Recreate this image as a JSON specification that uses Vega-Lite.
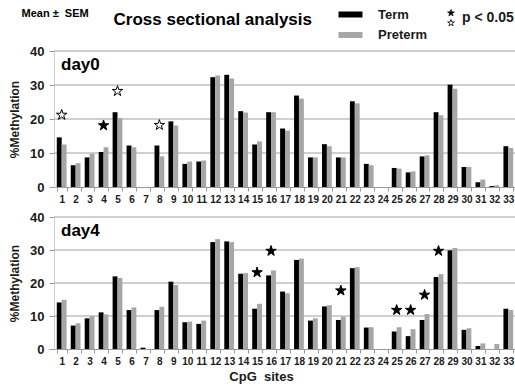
{
  "$schema": "https://vega.github.io/schema/vega-lite/v6.json",
  "padding": {"left": 8, "top": 8, "right": 0, "bottom": 2},
  "config": {
    "font": "Liberation Sans",
    "view": {"stroke": null},
    "axis": {"labelColor": "#1a1a1a", "titleColor": "#1a1a1a"}
  },
  "title": {"text": "Mean ± \u00a0SEM", "anchor": "start", "fontSize": 11, "fontWeight": "bold", "dx": 13, "offset": -11},
  "datasets": {
    "gridlines": [{"value": 10}, {"value": 20}, {"value": 30}, {"value": 40}],
    "bars": [
      {"day": "day0", "site": 1, "Term": 14.6, "Preterm": 12.5},
      {"day": "day0", "site": 2, "Term": 6.4, "Preterm": 7.0},
      {"day": "day0", "site": 3, "Term": 8.7, "Preterm": 9.8},
      {"day": "day0", "site": 4, "Term": 10.3, "Preterm": 11.7},
      {"day": "day0", "site": 5, "Term": 22.0, "Preterm": 20.3},
      {"day": "day0", "site": 6, "Term": 12.2, "Preterm": 11.7},
      {"day": "day0", "site": 7, "Term": 0, "Preterm": 0},
      {"day": "day0", "site": 8, "Term": 12.2, "Preterm": 9.0},
      {"day": "day0", "site": 9, "Term": 19.3, "Preterm": 18.1},
      {"day": "day0", "site": 10, "Term": 6.8, "Preterm": 7.5},
      {"day": "day0", "site": 11, "Term": 7.5, "Preterm": 7.8},
      {"day": "day0", "site": 12, "Term": 32.3, "Preterm": 32.8},
      {"day": "day0", "site": 13, "Term": 33.0, "Preterm": 31.9},
      {"day": "day0", "site": 14, "Term": 22.3, "Preterm": 21.9},
      {"day": "day0", "site": 15, "Term": 12.5, "Preterm": 13.4},
      {"day": "day0", "site": 16, "Term": 22.0, "Preterm": 22.0},
      {"day": "day0", "site": 17, "Term": 17.2, "Preterm": 16.6},
      {"day": "day0", "site": 18, "Term": 26.9, "Preterm": 26.0},
      {"day": "day0", "site": 19, "Term": 8.7, "Preterm": 8.7},
      {"day": "day0", "site": 20, "Term": 12.6, "Preterm": 12.0},
      {"day": "day0", "site": 21, "Term": 8.7, "Preterm": 8.7},
      {"day": "day0", "site": 22, "Term": 25.2, "Preterm": 24.6},
      {"day": "day0", "site": 23, "Term": 6.8, "Preterm": 6.4},
      {"day": "day0", "site": 24, "Term": 0, "Preterm": 0},
      {"day": "day0", "site": 25, "Term": 5.6, "Preterm": 5.4},
      {"day": "day0", "site": 26, "Term": 4.3, "Preterm": 4.6},
      {"day": "day0", "site": 27, "Term": 9.0, "Preterm": 9.3},
      {"day": "day0", "site": 28, "Term": 22.0, "Preterm": 21.1},
      {"day": "day0", "site": 29, "Term": 30.1, "Preterm": 28.9},
      {"day": "day0", "site": 30, "Term": 5.9, "Preterm": 5.9},
      {"day": "day0", "site": 31, "Term": 1.4, "Preterm": 2.2},
      {"day": "day0", "site": 32, "Term": 0.3, "Preterm": 0.5},
      {"day": "day0", "site": 33, "Term": 12.0, "Preterm": 11.5},
      {"day": "day4", "site": 1, "Term": 14.1, "Preterm": 14.9},
      {"day": "day4", "site": 2, "Term": 7.1, "Preterm": 7.8},
      {"day": "day4", "site": 3, "Term": 9.3, "Preterm": 10.0},
      {"day": "day4", "site": 4, "Term": 11.1, "Preterm": 10.5},
      {"day": "day4", "site": 5, "Term": 22.0, "Preterm": 21.5},
      {"day": "day4", "site": 6, "Term": 11.8, "Preterm": 12.6},
      {"day": "day4", "site": 7, "Term": 0.4, "Preterm": 0},
      {"day": "day4", "site": 8, "Term": 11.8, "Preterm": 12.8},
      {"day": "day4", "site": 9, "Term": 20.4, "Preterm": 19.4},
      {"day": "day4", "site": 10, "Term": 8.1, "Preterm": 8.3},
      {"day": "day4", "site": 11, "Term": 7.6, "Preterm": 8.6},
      {"day": "day4", "site": 12, "Term": 32.4, "Preterm": 33.3},
      {"day": "day4", "site": 13, "Term": 32.6, "Preterm": 32.4},
      {"day": "day4", "site": 14, "Term": 22.8, "Preterm": 23.0},
      {"day": "day4", "site": 15, "Term": 12.2, "Preterm": 13.7},
      {"day": "day4", "site": 16, "Term": 22.3, "Preterm": 23.8},
      {"day": "day4", "site": 17, "Term": 17.4, "Preterm": 16.9},
      {"day": "day4", "site": 18, "Term": 27.0, "Preterm": 27.4},
      {"day": "day4", "site": 19, "Term": 8.6, "Preterm": 9.3},
      {"day": "day4", "site": 20, "Term": 12.9, "Preterm": 13.3},
      {"day": "day4", "site": 21, "Term": 8.8, "Preterm": 9.8},
      {"day": "day4", "site": 22, "Term": 24.5, "Preterm": 24.8},
      {"day": "day4", "site": 23, "Term": 6.5, "Preterm": 6.6},
      {"day": "day4", "site": 24, "Term": 0, "Preterm": 0},
      {"day": "day4", "site": 25, "Term": 5.3, "Preterm": 6.6},
      {"day": "day4", "site": 26, "Term": 3.9, "Preterm": 6.0},
      {"day": "day4", "site": 27, "Term": 8.8, "Preterm": 10.6},
      {"day": "day4", "site": 28, "Term": 21.8, "Preterm": 22.7},
      {"day": "day4", "site": 29, "Term": 29.9, "Preterm": 30.6},
      {"day": "day4", "site": 30, "Term": 5.8, "Preterm": 6.3},
      {"day": "day4", "site": 31, "Term": 0.9, "Preterm": 1.7},
      {"day": "day4", "site": 32, "Term": 0, "Preterm": 1.5},
      {"day": "day4", "site": 33, "Term": 12.2, "Preterm": 11.8}
    ],
    "stars": [
      {"day": "day0", "site": 1, "value": 21.2, "sig": "open"},
      {"day": "day0", "site": 4, "value": 18.1, "sig": "filled"},
      {"day": "day0", "site": 5, "value": 28.2, "sig": "open"},
      {"day": "day0", "site": 8, "value": 18.2, "sig": "open"},
      {"day": "day4", "site": 15, "value": 23.2, "sig": "filled"},
      {"day": "day4", "site": 16, "value": 29.7, "sig": "filled"},
      {"day": "day4", "site": 21, "value": 17.7, "sig": "filled"},
      {"day": "day4", "site": 25, "value": 11.8, "sig": "filled"},
      {"day": "day4", "site": 26, "value": 11.8, "sig": "filled"},
      {"day": "day4", "site": 27, "value": 16.4, "sig": "filled"},
      {"day": "day4", "site": 28, "value": 29.7, "sig": "filled"}
    ]
  },
  "vconcat": [
    {
      "title": {"text": "Cross sectional analysis", "anchor": "start", "fontSize": 17, "fontWeight": "bold", "dx": 105, "offset": 16},
      "spacing": 7,
      "vconcat": [
        {
          "width": 462,
          "height": 136,
          "title": {"text": "day0", "anchor": "start", "frame": "group", "fontSize": 17, "fontWeight": "bold", "dx": 7, "dy": 33},
          "encoding": {
            "y": {"field": "value", "type": "quantitative", "scale": {"domain": [0, 40]},
              "axis": {"title": "%Methylation", "titleFontSize": 12, "titleFontWeight": "bold", "values": [0, 10, 20, 30, 40], "grid": false, "labelOverlap": false, "labelFontSize": 13, "labelFontWeight": "bold", "labelPadding": 5, "domainColor": "#d0d0d0", "tickColor": "#9a9a9a", "tickSize": 5, "titlePadding": 8}}
          },
          "layer": [
            {
              "data": {"name": "gridlines"},
              "mark": {"type": "rule", "color": "#a0a0a0", "strokeWidth": 1},
              "encoding": {}
            },
            {
              "data": {"name": "bars"},
              "transform": [{"filter": "datum.day === 'day0'"}, {"fold": ["Term", "Preterm"], "as": ["group", "value"]}],
              "mark": {"type": "bar"},
              "encoding": {
                "x": {"field": "site", "type": "ordinal", "scale": {"paddingInner": 0.3, "paddingOuter": 0.2},
                  "axis": {"title": null, "labelAngle": 0, "labelFontSize": 10, "labelFontWeight": "bold", "tickBand": "extent", "domainColor": "#999999", "tickColor": "#999999", "tickSize": 4, "labelPadding": 3}},
                "xOffset": {"field": "group", "type": "nominal", "scale": {"domain": ["Term", "Preterm"]}},
                "color": {"field": "group", "type": "nominal", "scale": {"domain": ["Term", "Preterm"], "range": ["#000000", "#a6a6a6"]},
                  "legend": {"title": null, "orient": "none", "legendX": 290, "legendY": -43, "symbolType": "M-2,-0.5H2V0.5H-2Z", "symbolSize": 144, "symbolStrokeWidth": 0, "labelFontSize": 13, "labelFontWeight": "bold", "labelColor": "#1a1a1a", "labelOffset": 21, "rowPadding": 6.5}}
              }
            },
            {
              "data": {"name": "stars"},
              "transform": [{"filter": "datum.day === 'day0'"}],
              "mark": {"type": "point", "filled": true, "shape": "M0,-1L0.2245,-0.309L0.951,-0.309L0.363,0.118L0.588,0.809L0,0.382L-0.588,0.809L-0.363,0.118L-0.951,-0.309L-0.2245,-0.309Z", "stroke": "black", "strokeWidth": 1, "size": 120, "opacity": 1},
              "encoding": {
                "x": {"field": "site", "type": "ordinal"},
                "fill": {"field": "sig", "type": "nominal", "scale": {"domain": ["filled", "open"], "range": ["black", "white"]},
                  "legend": {"title": "p < 0.05", "titleOrient": "right", "titleAnchor": "middle", "titleBaseline": "middle", "titleFontSize": 14, "titleFontWeight": "bold", "titleColor": "#1a1a1a", "orient": "none", "legendX": 393, "legendY": -42, "labelExpr": "''", "labelOffset": 0, "labelFontSize": 7, "symbolType": "M0,-1L0.2245,-0.309L0.951,-0.309L0.363,0.118L0.588,0.809L0,0.382L-0.588,0.809L-0.363,0.118L-0.951,-0.309L-0.2245,-0.309Z", "symbolSize": 50, "symbolStrokeColor": "black", "symbolStrokeWidth": 0.8, "rowPadding": -1, "titlePadding": 6,
                    "encode": {"symbols": {"update": {"stroke": {"value": "black"}, "strokeWidth": {"value": 0.8}, "opacity": {"value": 1}}}}}}
              }
            }
          ]
        },
        {
          "width": 462,
          "height": 132,
          "title": {"text": "day4", "anchor": "start", "frame": "group", "fontSize": 17, "fontWeight": "bold", "dx": 7, "dy": 33},
          "encoding": {
            "y": {"field": "value", "type": "quantitative", "scale": {"domain": [0, 40]},
              "axis": {"title": "%Methylation", "titleFontSize": 12, "titleFontWeight": "bold", "values": [0, 10, 20, 30, 40], "grid": false, "labelOverlap": false, "labelFontSize": 13, "labelFontWeight": "bold", "labelPadding": 5, "domainColor": "#d0d0d0", "tickColor": "#9a9a9a", "tickSize": 5, "titlePadding": 8}}
          },
          "layer": [
            {
              "data": {"name": "gridlines"},
              "mark": {"type": "rule", "color": "#a0a0a0", "strokeWidth": 1},
              "encoding": {}
            },
            {
              "data": {"name": "bars"},
              "transform": [{"filter": "datum.day === 'day4'"}, {"fold": ["Term", "Preterm"], "as": ["group", "value"]}],
              "mark": {"type": "bar"},
              "encoding": {
                "x": {"field": "site", "type": "ordinal", "scale": {"paddingInner": 0.3, "paddingOuter": 0.2},
                  "axis": {"title": "CpG\u00a0 sites", "titleFontSize": 13, "titleFontWeight": "bold", "titleX": 207, "titlePadding": 4, "labelAngle": 0, "labelFontSize": 10, "labelFontWeight": "bold", "tickBand": "extent", "domainColor": "#999999", "tickColor": "#999999", "tickSize": 4, "labelPadding": 3}},
                "xOffset": {"field": "group", "type": "nominal", "scale": {"domain": ["Term", "Preterm"]}},
                "color": {"field": "group", "type": "nominal"}
              }
            },
            {
              "data": {"name": "stars"},
              "transform": [{"filter": "datum.day === 'day4'"}],
              "mark": {"type": "point", "filled": true, "shape": "M0,-1L0.2245,-0.309L0.951,-0.309L0.363,0.118L0.588,0.809L0,0.382L-0.588,0.809L-0.363,0.118L-0.951,-0.309L-0.2245,-0.309Z", "stroke": "black", "strokeWidth": 1, "size": 120, "opacity": 1},
              "encoding": {
                "x": {"field": "site", "type": "ordinal"},
                "fill": {"field": "sig", "type": "nominal"}
              }
            }
          ]
        }
      ]
    }
  ]
}
